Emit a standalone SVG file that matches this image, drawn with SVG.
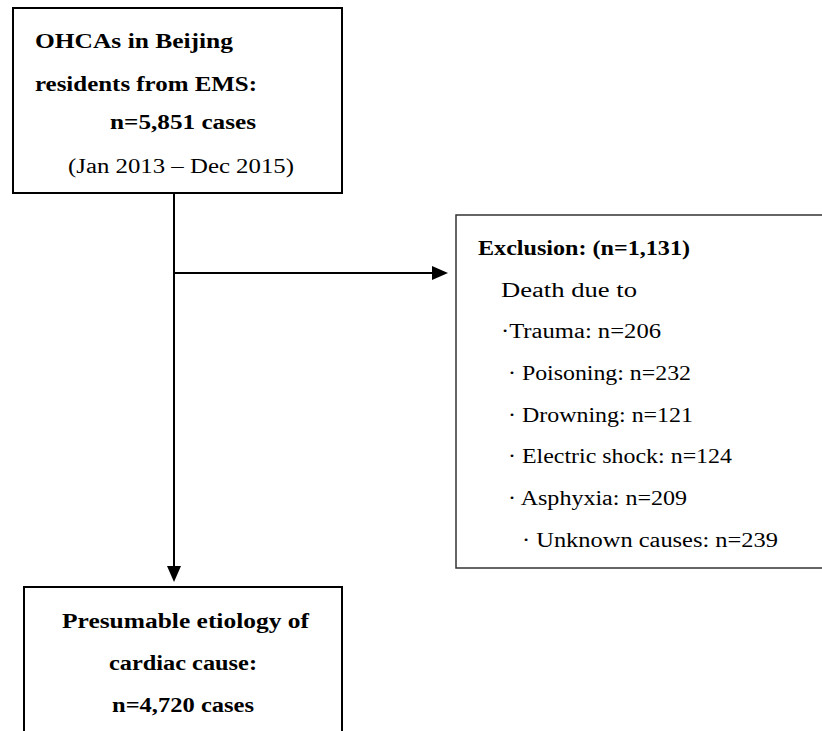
<svg xmlns="http://www.w3.org/2000/svg" width="822" height="731" viewBox="0 0 822 731">
<style>
  text { font-family: "Liberation Serif", "Times New Roman", serif; font-size: 20px; fill: #000; }
  .b { font-weight: bold; }
  .box { fill: #fff; stroke: #000; stroke-width: 2; }
  .box2 { fill: #fff; stroke: #333; stroke-width: 1.5; }
  .conn { stroke: #000; stroke-width: 2; fill: none; }
  .head { fill: #000; stroke: none; }
</style>
<rect width="822" height="731" fill="#fff"/>
<g id="connectors">
  <line class="conn" x1="174" y1="193" x2="174" y2="568"/>
  <polygon class="head" points="167,566 181,566 174,582"/>
  <line class="conn" x1="174" y1="273" x2="434" y2="273"/>
  <polygon class="head" points="432,266 432,280 448,273"/>
</g>
<g id="node-ohca">
  <rect class="box" x="13" y="8" width="329" height="185"/>
  <text class="b" x="35" y="48" textLength="198" lengthAdjust="spacingAndGlyphs">OHCAs in Beijing</text>
  <text class="b" x="35" y="91" textLength="222" lengthAdjust="spacingAndGlyphs">residents from EMS:</text>
  <text class="b" x="110" y="129" textLength="146" lengthAdjust="spacingAndGlyphs">n=5,851 cases</text>
  <text x="68" y="173" textLength="226" lengthAdjust="spacingAndGlyphs">(Jan 2013 – Dec 2015)</text>
</g>
<g id="node-exclusion">
  <rect class="box2" x="456" y="215" width="380" height="353"/>
  <text class="b" x="478" y="255" textLength="212" lengthAdjust="spacingAndGlyphs">Exclusion: (n=1,131)</text>
  <text x="501" y="297" textLength="136" lengthAdjust="spacingAndGlyphs">Death due to</text>
  <text x="501" y="338" textLength="160" lengthAdjust="spacingAndGlyphs">·Trauma: n=206</text>
  <text x="508" y="380" textLength="183" lengthAdjust="spacingAndGlyphs">· Poisoning: n=232</text>
  <text x="508" y="422" textLength="185" lengthAdjust="spacingAndGlyphs">· Drowning: n=121</text>
  <text x="508" y="463" textLength="224" lengthAdjust="spacingAndGlyphs">· Electric shock: n=124</text>
  <text x="508" y="505" textLength="179" lengthAdjust="spacingAndGlyphs">· Asphyxia: n=209</text>
  <text x="522" y="547" textLength="256" lengthAdjust="spacingAndGlyphs">· Unknown causes: n=239</text>
</g>
<g id="node-cardiac">
  <rect class="box" x="24" y="587" width="318" height="160"/>
  <text class="b" x="62" y="628" textLength="247" lengthAdjust="spacingAndGlyphs">Presumable etiology of</text>
  <text class="b" x="109" y="670" textLength="148" lengthAdjust="spacingAndGlyphs">cardiac cause:</text>
  <text class="b" x="112" y="712" textLength="142" lengthAdjust="spacingAndGlyphs">n=4,720 cases</text>
</g>
</svg>
